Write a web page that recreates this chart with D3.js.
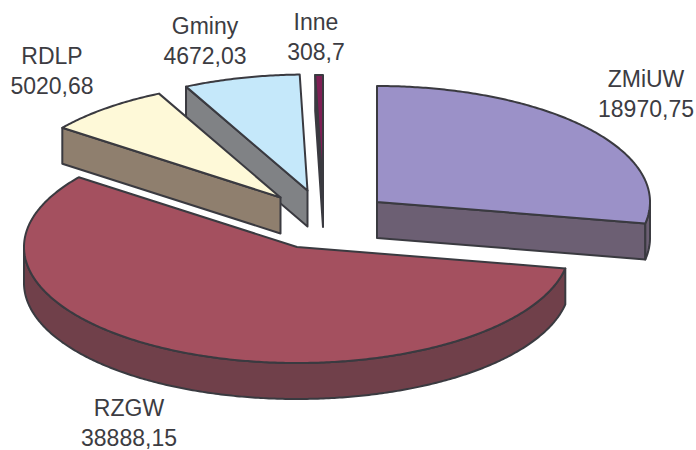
<!DOCTYPE html>
<html>
<head>
<meta charset="utf-8">
<script src="https://cdn.jsdelivr.net/npm/d3@7/dist/d3.min.js"></script>
<style>
html,body{margin:0;padding:0;background:#fff}
svg{display:block}
text{font-family:"Liberation Sans",Arial,sans-serif;font-size:23px;fill:#3c3c42;text-anchor:middle}
</style>
</head>
<body>
<svg id="c" width="696" height="450"></svg>
<script>
// Data
const categories = ["ZMiUW", "RZGW", "RDLP", "Gminy", "Inne"];
const values = [18970.75, 38888.15, 5020.68, 4672.03, 308.7];

// Styles and layout
const topColors = ["#9b91c8", "#a4505f", "#fef9d8", "#c5e8fa", "#7f1f55"];
const sideColors = ["#6c5f73", "#70404a", "#8f7f6e", "#808285", "#3a3a42"];
const apexX = [377, 297, 280.5, 307.5, 323];
const apexY = [202, 247, 197.5, 190.5, 191];
const labelX = [646, 129, 52, 205, 316];
const labelY = [87, 416, 64, 34, 30];
const drawOrder = [4, 3, 2, 0, 1];
const rx = 273, ry = 116, depth = 36, lineGap = 30;
const stroke = "#3a3a40";

const svg = d3.select("#c");
const arcs = d3.pie().sort(null)(values);
const line = d3.line();
const px = a => rx * Math.sin(a);
const py = a => -ry * Math.cos(a);
const samples = (a0, a1) => {
  const n = Math.max(2, Math.ceil((a1 - a0) / 0.01));
  return d3.range(n + 1).map(i => a0 + (a1 - a0) * i / n);
};

function poly(pts, fill) {
  svg.append("path")
    .attr("d", line(pts) + "Z")
    .attr("fill", fill)
    .attr("stroke", stroke)
    .attr("stroke-width", 2)
    .attr("stroke-linejoin", "round");
}

drawOrder.forEach(i => {
  const {startAngle: a0, endAngle: a1} = arcs[i];
  const cx = apexX[i], cy = apexY[i];
  const P = (a, d = 0) => [cx + px(a), cy + py(a) + d];
  const C = (d = 0) => [cx, cy + d];

  // Cut faces that turn toward the viewer
  [[a0, -Math.PI / 2], [a1, Math.PI / 2]].forEach(([a, turn]) => {
    if (-Math.cos(a + turn) > 1e-6) {
      poly([C(), P(a), P(a, depth), C(depth)], sideColors[i]);
    }
  });

  // Outer rim on the near half of the ellipse
  const w0 = Math.max(a0, Math.PI / 2), w1 = Math.min(a1, 3 * Math.PI / 2);
  if (w1 > w0) {
    const s = samples(w0, w1);
    poly(s.map(a => P(a)).concat(s.slice().reverse().map(a => P(a, depth))), sideColors[i]);
  }

  // Top face
  poly([C()].concat(samples(a0, a1).map(a => P(a))), topColors[i]);
});

// Labels
categories.forEach((name, i) => {
  const t = svg.append("text").attr("x", labelX[i]).attr("y", labelY[i]);
  t.append("tspan").attr("x", labelX[i]).text(name);
  t.append("tspan").attr("x", labelX[i]).attr("dy", lineGap)
    .text(String(values[i]).replace(".", ","));
});
</script>
</body>
</html>
